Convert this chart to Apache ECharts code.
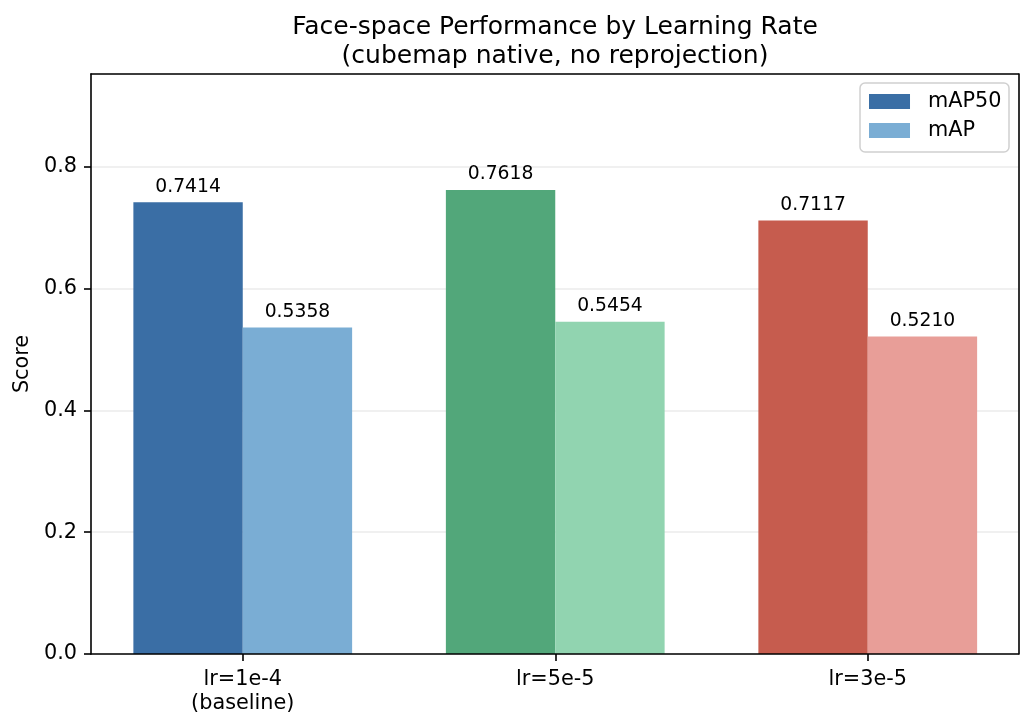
<!DOCTYPE html>
<html>
<head>
<meta charset="utf-8">
<script src="https://cdn.jsdelivr.net/npm/echarts@6/dist/echarts.min.js"></script>
<style>
  html, body { margin: 0; padding: 0; background: #fff; }
  #main { width: 1034px; height: 727px; }
</style>
</head>
<body>
<div id="main"></div>
<script>
var chart = echarts.init(document.getElementById("main"));

// data
var categories = ["lr=1e-4\n(baseline)", "lr=5e-5", "lr=3e-5"];
var map50Values = [0.7414, 0.7618, 0.7117];
var mapValues = [0.5358, 0.5454, 0.5210];
var map50Colors = ["#3a6ea5", "#52a77a", "#c65c4e"];
var mapColors = ["#7aadd4", "#91d4b0", "#e89e98"];
var yTicks = [0, 0.2, 0.4, 0.6, 0.8];

var FONT = "DejaVu Sans";
var yMax = 0.952;

function makeData(values, colors) {
    return values.map(function (v, i) {
        return { value: v, itemStyle: { color: colors[i] } };
    });
}

var spine = { show: true, onZero: false, lineStyle: { color: "#000", width: 1.6 } };
var labelStyle = {
    show: true,
    position: "top",
    distance: 6,
    fontFamily: FONT,
    fontSize: 18.75,
    color: "#000",
    formatter: function (p) { return p.value.toFixed(4); }
};

var option = {
    backgroundColor: "#fff",
    animation: false,
    title: {
        text: "Face-space Performance by Learning Rate\n(cubemap native, no reprojection)",
        left: 550,
        top: 8,
        textAlign: "center",
        textStyle: {
            fontFamily: FONT,
            fontSize: 25,
            fontWeight: "normal",
            color: "#000",
            lineHeight: 29
        }
    },
    legend: {
        orient: "vertical",
        right: 25,
        top: 83,
        padding: [8, 7.5, 11, 9],
        itemWidth: 41,
        itemHeight: 15,
        itemGap: 8,
        icon: "rect",
        backgroundColor: "rgba(255,255,255,0.8)",
        borderColor: "#d0d0d0",
        borderWidth: 1.5,
        borderRadius: 5,
        textStyle: {
            fontFamily: FONT,
            fontSize: 20.8,
            color: "#000",
            padding: [0, 0, 0, 13]
        },
        data: ["mAP50", "mAP"]
    },
    grid: [
        { left: 91, right: 15.5, top: 74, bottom: 73 },
        { left: 86.5, right: 10, top: 74, bottom: 73 }
    ],
    xAxis: [
        {
            gridIndex: 0, type: "value", min: 0, max: 1, position: "bottom", z: 5,
            axisLine: spine, axisTick: { show: false }, axisLabel: { show: false }, splitLine: { show: false }
        },
        {
            gridIndex: 0, type: "value", min: 0, max: 1, position: "top", z: 5,
            axisLine: spine, axisTick: { show: false }, axisLabel: { show: false }, splitLine: { show: false }
        },
        {
            gridIndex: 1, type: "category", data: categories, position: "bottom",
            axisLine: { show: false },
            axisTick: { show: true, alignWithLabel: true, length: 7, lineStyle: { color: "#000", width: 1.6 } },
            axisLabel: { fontFamily: FONT, fontSize: 20.8, color: "#000", margin: 14, lineHeight: 24 },
            splitLine: { show: false }
        }
    ],
    yAxis: [
        {
            gridIndex: 0, type: "value", min: 0, max: yMax, interval: 0.2,
            name: "Score", nameLocation: "middle", nameGap: 51, nameRotate: 90,
            nameTextStyle: { fontFamily: FONT, fontSize: 20.8, color: "#000" },
            axisLine: spine,
            axisTick: { show: true, length: 7, lineStyle: { color: "#000", width: 1.6 } },
            axisLabel: {
                fontFamily: FONT, fontSize: 20.8, color: "#000", margin: 14,
                showMaxLabel: false,
                formatter: function (v) {
                    return yTicks.some(function (t) { return Math.abs(t - v) < 1e-9; }) ? v.toFixed(1) : "";
                }
            },
            splitLine: { show: true, lineStyle: { color: "#ebebeb", width: 1.5 } }
        },
        {
            gridIndex: 0, type: "value", min: 0, max: 1, position: "right", z: 5,
            axisLine: spine, axisTick: { show: false }, axisLabel: { show: false }, splitLine: { show: false }
        },
        {
            gridIndex: 1, type: "value", min: 0, max: yMax, show: false
        }
    ],
    series: [
        {
            name: "mAP50",
            type: "bar",
            xAxisIndex: 2,
            yAxisIndex: 2,
            barGap: "0%",
            barCategoryGap: "30%",
            itemStyle: { color: map50Colors[0] },
            label: labelStyle,
            data: makeData(map50Values, map50Colors)
        },
        {
            name: "mAP",
            type: "bar",
            xAxisIndex: 2,
            yAxisIndex: 2,
            barGap: "0%",
            barCategoryGap: "30%",
            itemStyle: { color: mapColors[0] },
            label: labelStyle,
            data: makeData(mapValues, mapColors)
        }
    ]
};

chart.setOption(option);
</script>
</body>
</html>
